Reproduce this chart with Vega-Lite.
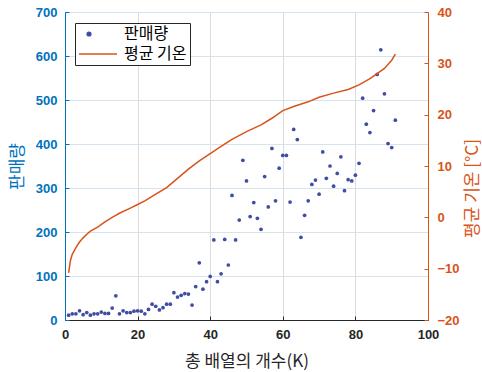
{
  "$schema": "https://vega.github.io/schema/vega-lite/v6.json",
  "autosize": {"type": "none"},
  "padding": {"left": 65, "top": 12, "right": 54, "bottom": 52},
  "width": 363,
  "height": 308,
  "background": "white",
  "config": {
    "view": {"stroke": "#404040", "strokeWidth": 1},
    "font": "Liberation Sans"
  },
  "datasets": {
    "sales": [
      {"k":1,"sales":11},{"k":2,"sales":14},{"k":3,"sales":14},{"k":4,"sales":21},{"k":5,"sales":12},
      {"k":6,"sales":17},{"k":7,"sales":11},{"k":8,"sales":14},{"k":9,"sales":14},{"k":10,"sales":18},
      {"k":11,"sales":15},{"k":12,"sales":15},{"k":13,"sales":27},{"k":14,"sales":55},{"k":15,"sales":14},
      {"k":16,"sales":21},{"k":17,"sales":17},{"k":18,"sales":17},{"k":19,"sales":20},{"k":20,"sales":21},
      {"k":21,"sales":20},{"k":22,"sales":14},{"k":23,"sales":24},{"k":24,"sales":36},{"k":25,"sales":31},
      {"k":26,"sales":23},{"k":27,"sales":28},{"k":28,"sales":36},{"k":29,"sales":36},{"k":30,"sales":62},
      {"k":31,"sales":52},{"k":32,"sales":56},{"k":33,"sales":60},{"k":34,"sales":59},{"k":35,"sales":34},
      {"k":36,"sales":76},{"k":37,"sales":130},{"k":38,"sales":70},{"k":39,"sales":87},{"k":40,"sales":99},
      {"k":41,"sales":182},{"k":42,"sales":87},{"k":43,"sales":105},{"k":44,"sales":183},{"k":45,"sales":125},
      {"k":46,"sales":283},{"k":47,"sales":182},{"k":48,"sales":227},{"k":49,"sales":363},{"k":50,"sales":316},
      {"k":51,"sales":235},{"k":52,"sales":267},{"k":53,"sales":231},{"k":54,"sales":206},{"k":55,"sales":326},
      {"k":56,"sales":257},{"k":57,"sales":390},{"k":58,"sales":271},{"k":59,"sales":345},{"k":60,"sales":374},
      {"k":61,"sales":374},{"k":62,"sales":268},{"k":63,"sales":433},{"k":64,"sales":410},{"k":65,"sales":188},
      {"k":66,"sales":238},{"k":67,"sales":271},{"k":68,"sales":308},{"k":69,"sales":318},{"k":70,"sales":286},
      {"k":71,"sales":382},{"k":72,"sales":322},{"k":73,"sales":350},{"k":74,"sales":304},{"k":75,"sales":333},
      {"k":76,"sales":371},{"k":77,"sales":294},{"k":78,"sales":319},{"k":79,"sales":316},{"k":80,"sales":329},
      {"k":81,"sales":356},{"k":82,"sales":504},{"k":83,"sales":445},{"k":84,"sales":426},{"k":85,"sales":476},
      {"k":86,"sales":558},{"k":87,"sales":614},{"k":88,"sales":514},{"k":89,"sales":401},{"k":90,"sales":392},
      {"k":91,"sales":454}
    ],
    "temp": [
      {"k":1,"temp":-10.8},{"k":1.5,"temp":-8.4},{"k":2,"temp":-7.2},{"k":3,"temp":-5.9},{"k":4,"temp":-4.8},
      {"k":5,"temp":-4.0},{"k":6,"temp":-3.3},{"k":7,"temp":-2.7},{"k":9,"temp":-1.9},{"k":11,"temp":-0.9},
      {"k":13,"temp":0.0},{"k":15,"temp":0.8},{"k":18,"temp":1.8},{"k":20,"temp":2.5},{"k":22,"temp":3.2},
      {"k":25,"temp":4.5},{"k":28,"temp":5.8},{"k":31,"temp":7.6},{"k":34,"temp":9.4},{"k":37,"temp":11.0},
      {"k":40,"temp":12.4},{"k":43,"temp":13.8},{"k":46,"temp":15.2},{"k":50,"temp":16.7},{"k":54,"temp":18.0},
      {"k":57,"temp":19.3},{"k":60,"temp":20.8},{"k":63,"temp":21.6},{"k":67,"temp":22.5},{"k":70,"temp":23.4},
      {"k":74,"temp":24.2},{"k":78,"temp":24.9},{"k":81,"temp":25.8},{"k":84,"temp":27.0},{"k":86,"temp":28.0},
      {"k":88,"temp":29.0},{"k":90,"temp":30.6},{"k":91,"temp":31.8}
    ]
  },
  "layer": [
    {
      "data": {"name": "sales"},
      "mark": {"type": "point", "filled": true, "opacity": 1},
      "encoding": {
        "x": {
          "field": "k", "type": "quantitative",
          "scale": {"domain": [0, 100], "nice": false},
          "axis": {
            "values": [0, 20, 40, 60, 80, 100],
            "title": "총 배열의 개수(K)",
            "titleFont": "Noto Sans CJK KR", "titleFontSize": 17, "titleFontWeight": "normal",
            "titleColor": "#262626", "titlePadding": 12,
            "labelFont": "Liberation Sans", "labelFontSize": 13, "labelFontWeight": "bold",
            "labelColor": "#262626", "labelPadding": 12,
            "tickSize": -4, "tickColor": "#262626", "domainColor": "#262626",
            "grid": true, "gridColor": "#dcdcdc", "gridWidth": 1,
            "labelFlush": false
          }
        },
        "y": {
          "field": "sales", "type": "quantitative",
          "scale": {"domain": [0, 700], "nice": false},
          "axis": {
            "orient": "left",
            "values": [0, 100, 200, 300, 400, 500, 600, 700],
            "title": "판매량",
            "titleFont": "Noto Sans CJK KR", "titleFontSize": 17, "titleFontWeight": "normal",
            "titleColor": "#0072BD", "titlePadding": 9,
            "labelFont": "Liberation Sans", "labelFontSize": 13, "labelFontWeight": "bold",
            "labelColor": "#0072BD", "labelPadding": 12,
            "tickSize": -4, "tickColor": "#0072BD", "domainColor": "#0072BD",
            "grid": true, "gridColor": "#d6e4f0", "gridWidth": 1
          }
        },
        "color": {
          "datum": "판매량", "type": "nominal",
          "scale": {"domain": ["판매량", "평균 기온"], "range": ["#3F4EA3", "#D95319"]},
          "legend": {
            "title": null,
            "orient": "none",
            "legendX": 10,
            "legendY": 11,
            "direction": "vertical",
            "rowPadding": 1,
            "padding": 3,
            "labelOffset": 24,
            "labelFont": "Noto Sans CJK KR",
            "labelFontSize": 16,
            "labelColor": "#000000",
            "symbolStrokeWidth": 1.5,
            "strokeColor": "#262626",
            "fillColor": "white"
          }
        },
        "shape": {
          "datum": "판매량", "type": "nominal",
          "scale": {"domain": ["판매량", "평균 기온"], "range": ["circle", "M-1,0H2.8"]},
          "legend": {"title": null, "orient": "none", "legendX": 10, "legendY": 11}
        },
        "size": {
          "datum": "판매량", "type": "ordinal",
          "scale": {"domain": ["판매량", "평균 기온"], "range": [14, 400]},
          "legend": {"title": null, "orient": "none", "legendX": 10, "legendY": 11}
        }
      }
    },
    {
      "data": {"name": "temp"},
      "mark": {"type": "line", "strokeWidth": 1.5},
      "encoding": {
        "x": {"field": "k", "type": "quantitative", "scale": {"domain": [0, 100], "nice": false}},
        "y": {
          "field": "temp", "type": "quantitative",
          "scale": {"domain": [-20, 40], "nice": false},
          "axis": {
            "orient": "right",
            "values": [-20, -10, 0, 10, 20, 30, 40],
            "title": "평균 기온 [°C]",
            "titleAngle": 270,
            "titleX": 44,
            "titleY": 176,
            "titleAlign": "center",
            "titleBaseline": "middle",
            "titleFont": "Noto Sans CJK KR", "titleFontSize": 17, "titleFontWeight": "normal",
            "titleColor": "#D95319",
            "labelFont": "Liberation Sans", "labelFontSize": 13, "labelFontWeight": "bold",
            "labelColor": "#D95319", "labelPadding": 13,
            "tickSize": -4, "tickColor": "#D95319", "domainColor": "#D95319",
            "grid": false
          }
        },
        "color": {"datum": "평균 기온", "type": "nominal"}
      }
    }
  ],
  "resolve": {"scale": {"y": "independent"}}
}
